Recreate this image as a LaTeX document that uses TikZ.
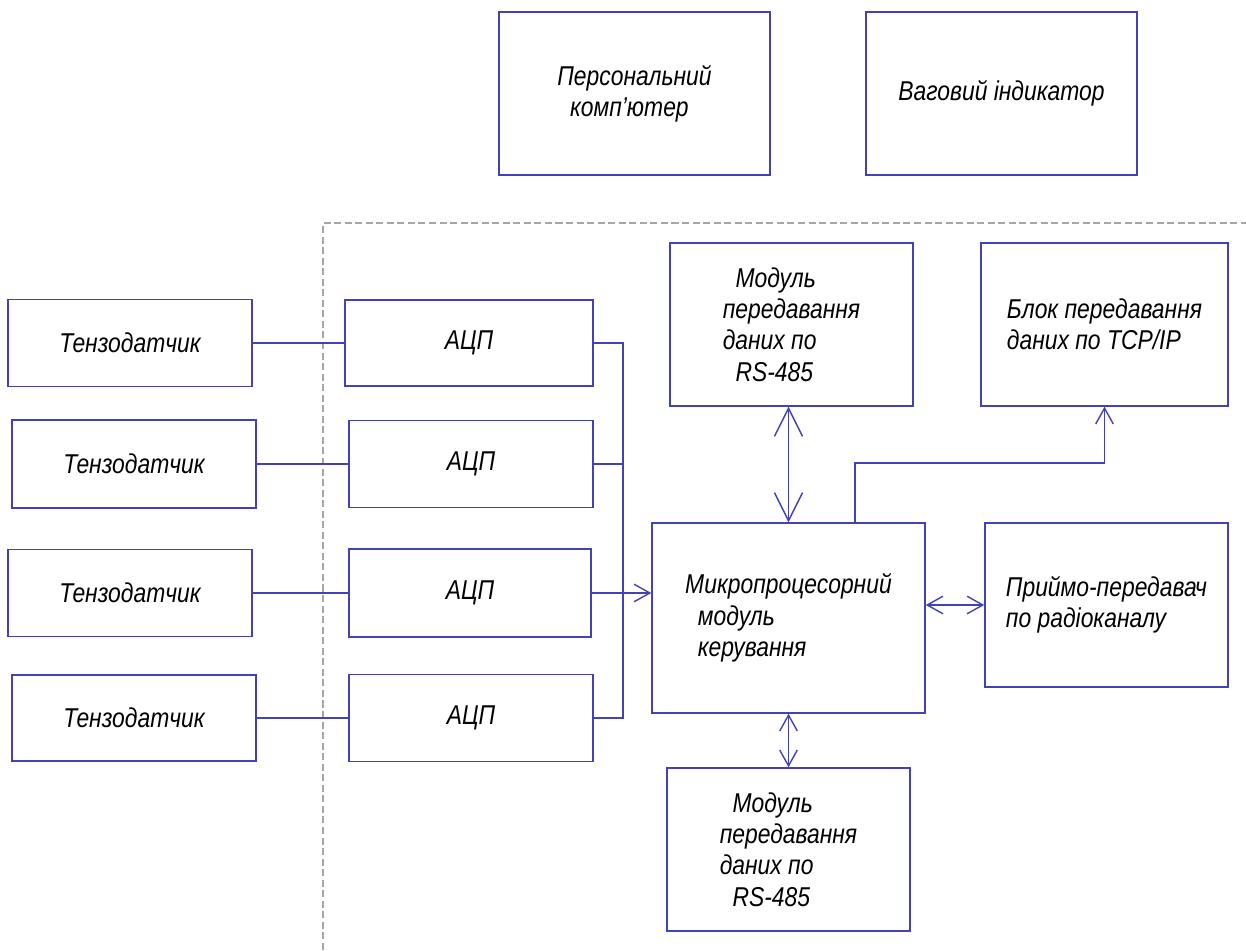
\documentclass[tikz,border=0pt]{standalone}
\usepackage{fontspec}
\setmainfont{Liberation Sans}
\newfontfamily\gostfont[FakeStretch=0.84]{Liberation Sans}
\usetikzlibrary{arrows.meta}
\definecolor{linecol}{RGB}{66,66,182}
\tikzset{
	blk/.style={draw=linecol, line width=0.8pt, font=\gostfont\itshape\fontsize{15.5}{17.8}\selectfont, align=left, inner sep=0pt},
	link/.style={draw=linecol, line width=0.8pt},
	tip/.style={-{Straight Barb[length=9pt,width=10pt,line width=0.8pt]}},
	tips/.style={{Straight Barb[length=9pt,width=10pt,line width=0.8pt]}-{Straight Barb[length=9pt,width=10pt,line width=0.8pt]}},
	bigtips/.style={{Straight Barb[length=16pt,width=16pt,line width=0.8pt]}-{Straight Barb[length=16pt,width=16pt,line width=0.8pt]}}
}

\begin{document}
\begin{tikzpicture}
			%%%%% START %%%%%
			\useasboundingbox (0,0) rectangle (24.92,-19);
			
			\node[blk, minimum width=5.42cm, minimum height=3.26cm] (pc) at (12.69,-1.87) {Персональний\\ \ \ комп’ютер};
			\node[blk, minimum width=5.42cm, minimum height=3.26cm] (ind) at (20.03,-1.87) {Ваговий індикатор};
			
			\draw[gray!70, line width=0.6pt, dash pattern=on 4pt off 2pt] (6.46,-19) -- (6.46,-4.46) -- (24.92,-4.46);
			
			\node[blk, minimum width=4.88cm, minimum height=1.74cm] (t1) at (2.60,-6.86) {Тензодатчик};
			\node[blk, minimum width=4.88cm, minimum height=1.76cm] (t2) at (2.68,-9.28) {Тензодатчик};
			\node[blk, minimum width=4.88cm, minimum height=1.74cm] (t3) at (2.60,-11.86) {Тензодатчик};
			\node[blk, minimum width=4.88cm, minimum height=1.72cm] (t4) at (2.68,-14.36) {Тензодатчик};
			
			\node[blk, minimum width=4.96cm, minimum height=1.72cm] (a1) at (9.38,-6.86) {АЦП};
			\node[blk, minimum width=4.88cm, minimum height=1.74cm] (a2) at (9.42,-9.28) {АЦП};
			\node[blk, minimum width=4.84cm, minimum height=1.76cm] (a3) at (9.40,-11.86) {АЦП};
			\node[blk, minimum width=4.88cm, minimum height=1.74cm] (a4) at (9.42,-14.36) {АЦП};
			
			\node[blk, minimum width=5.46cm, minimum height=3.80cm] (mcu) at (15.77,-12.36) {Микропроцесорний\\ \ \ модуль\\ \ \ керування};
			\node[blk, minimum width=4.86cm, minimum height=3.26cm] (rs1) at (15.83,-6.49) {\ \ Модуль\\ передавання\\ даних по\\ \ \ RS-485};
			\node[blk, minimum width=4.94cm, minimum height=3.26cm] (tcp) at (22.09,-6.49) {Блок передавання\\ даних по TCP/IP};
			\node[blk, minimum width=4.86cm, minimum height=3.28cm] (radio) at (22.13,-12.10) {Приймо-передавач\\ по радіоканалу};
			\node[blk, minimum width=4.86cm, minimum height=3.26cm] (rs2) at (15.77,-16.99) {\ \ Модуль\\ передавання\\ даних по\\ \ \ RS-485};
			
			\draw[link] (t1) -- (a1);
			\draw[link] (t2) -- (a2);
			\draw[link] (t3) -- (a3);
			\draw[link] (t4) -- (a4);
			
			\coordinate (bus) at (12.46,0);
			\draw[link] (a1.east) -- (a1.east -| bus) -- (a4.east -| bus) -- (a4.east);
			\draw[link] (a2.east) -- (a2.east -| bus);
			\draw[link, tip] (a3.east) -- (a3.east -| mcu.west);
			
			\draw[link, bigtips] (mcu.north) -- (mcu.north |- rs1.south);
			\draw[link, tips] (mcu.south) -- (mcu.south |- rs2.north);
			\draw[link, tips] (radio.west -| mcu.east) -- (radio.west);
			
			\coordinate (tap) at (17.10,-9.26);
			\draw[link, tip] (tap |- mcu.north) -- (tap) -| (tcp.south);
			
			%%%%% END %%%%%
\end{tikzpicture}
\end{document}
